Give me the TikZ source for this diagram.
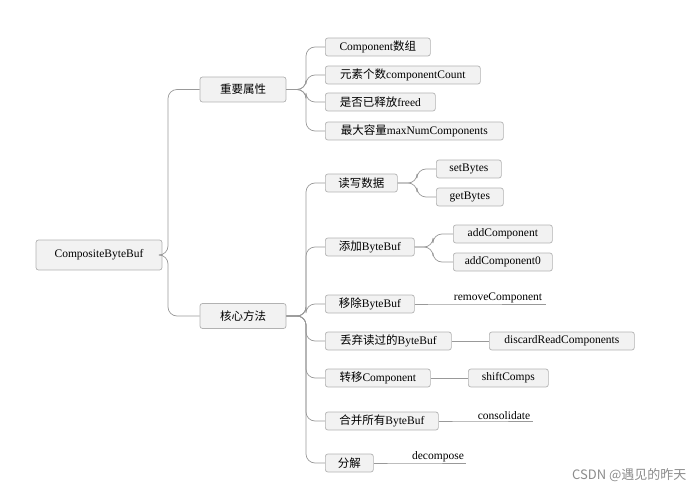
\documentclass[tikz,border=0pt]{standalone}
\usepackage{fontspec}
\setmainfont{Liberation Serif}
\newfontfamily\zhf{Noto Sans CJK SC}
\newcommand{\zh}[1]{{\zhf #1}}
\begin{document}
\begin{tikzpicture}[x=1pt,y=-1pt,
 box/.style={draw=black!30,fill=black!5,rounded corners=2.5pt,line width=0.7pt,inner sep=0pt,minimum height=18pt,font=\fontsize{11.5}{13}\selectfont},
 ln/.style={draw=black!40,line width=0.7pt,rounded corners=9pt},
 ul/.style={font=\fontsize{11.5}{13}\selectfont,inner sep=1pt,anchor=south}]
\useasboundingbox (0,0) rectangle (700,494);
\node[box,minimum width=126pt,minimum height=30pt] (root) at (99,255) {CompositeByteBuf};
\node[box,minimum width=86pt,minimum height=25pt] (p) at (243,89.5) {\zh{重要属性}};
\node[box,minimum width=86pt,minimum height=25pt] (m) at (243,316) {\zh{核心方法}};
\draw[ln] (root.east) -- (168,255) |- (p.west);
\draw[ln] (root.east) -- (168,255) |- (m.west);
% properties
\node[box,minimum width=105pt,anchor=west] (p1) at (325,47) {Component\zh{数组}};
\node[box,minimum width=155pt,anchor=west] (p2) at (325,75) {\zh{元素个数}componentCount};
\node[box,minimum width=110pt,anchor=west] (p3) at (325,102) {\zh{是否已释放}freed};
\node[box,minimum width=178pt,anchor=west] (p4) at (325,131) {\zh{最大容量}maxNumComponents};
\foreach \c in {p1,p2,p3,p4} \draw[ln] (p.east) -- (306,89.5) |- (\c.west);
% methods
\node[box,minimum width=72pt,anchor=west] (m1) at (325,183) {\zh{读写数据}};
\node[box,minimum width=89pt,anchor=west] (m2) at (325,247) {\zh{添加}ByteBuf};
\node[box,minimum width=89pt,anchor=west] (m3) at (325,304) {\zh{移除}ByteBuf};
\node[box,minimum width=126pt,anchor=west] (m4) at (325,341) {\zh{丢弃读过的}ByteBuf};
\node[box,minimum width=105pt,anchor=west] (m5) at (325,378) {\zh{转移}Component};
\node[box,minimum width=113pt,anchor=west] (m6) at (325,421) {\zh{合并所有}ByteBuf};
\node[box,minimum width=48pt,anchor=west] (m7) at (325,463) {\zh{分解}};
\foreach \c in {m1,m2,m3,m4,m5,m6,m7} \draw[ln] (m.east) -- (306,316) |- (\c.west);
% level 3
\node[box,minimum width=65pt,anchor=west] (s1) at (436,169) {setBytes};
\node[box,minimum width=67pt,anchor=west] (s2) at (436,197) {getBytes};
\foreach \c in {s1,s2} \draw[ln] (m1.east) -- (417,183) |- (\c.west);
\node[box,minimum width=99pt,anchor=west] (a1) at (453,234) {addComponent};
\node[box,minimum width=99pt,anchor=west] (a2) at (453,262) {addComponent0};
\foreach \c in {a1,a2} \draw[ln] (m2.east) -- (433,247) |- (\c.west);
\coordinate (r0) at (450,304); \coordinate (r1) at (546,304);
\draw[ln] (m3.east) -- (r0) -- (r1);
\node[ul] (rt) at (498,304) {removeComponent};
\node[box,minimum width=145pt,anchor=west] (d1) at (489,341) {discardReadComponents};
\draw[ln] (m4.east) -- (d1.west);
\node[box,minimum width=80pt,anchor=west] (sh) at (468,378) {shiftComps};
\draw[ln] (m5.east) -- (sh.west);
\coordinate (c0) at (475,421); \coordinate (c1) at (533,421);
\draw[ln] (m6.east) -- (c0) -- (c1);
\node[ul] (ct) at (504,421) {consolidate};
\coordinate (e0) at (410,463); \coordinate (e1) at (466,463);
\draw[ln] (m7.east) -- (e0) -- (e1);
\node[ul] (et) at (438,463) {decompose};
\node[font=\fontsize{13}{15}\selectfont,text=black!45,anchor=east] (wm) at (690,475) {\zh{CSDN @遇见的昨天}};
\end{tikzpicture}
\end{document}
